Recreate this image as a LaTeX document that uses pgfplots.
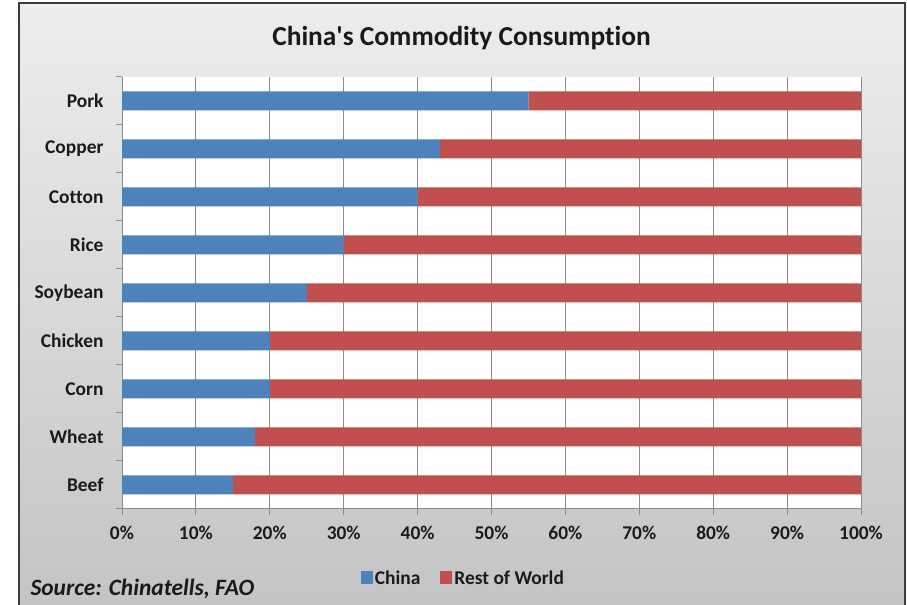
\documentclass[border=0pt]{standalone}
\usepackage{pgfplots}
\pgfplotsset{compat=1.18}
\usepackage{fontspec}
\setmainfont{Carlito}[Ligatures={TeX,NoCommon}]
\definecolor{cblue}{HTML}{4F81BD}
\definecolor{cred}{HTML}{C0504D}
\definecolor{gridc}{HTML}{8C8C8C}
\definecolor{txt}{HTML}{1A1A1A}
\definecolor{bgtop}{HTML}{EDEDED}
\definecolor{bgbot}{HTML}{C4C4C4}
\definecolor{frame}{HTML}{3C3C3C}
\begin{document}
\begin{tikzpicture}[x=1bp,y=1bp]
\useasboundingbox (0,0) rectangle (907,605);
\fill[white] (0,0) rectangle (907,605);
\shade[top color=bgtop, bottom color=bgbot] (19,0) rectangle (905,602);
\draw[line width=2bp, frame] (19,-2) -- (19,602) -- (905,602) -- (905,-2);
\node[anchor=base, text=txt, font=\fontsize{27.5}{30}\selectfont\bfseries] at (461.5,559) {China\textquotesingle s Commodity Consumption};
\node[anchor=base west, text=txt, font=\fontsize{23.5}{26}\selectfont\bfseries\itshape] at (27,9) {Source: Chinatells, FAO};
\begin{axis}[
  at={(122bp,96bp)}, anchor=south west, scale only axis,
  width=739bp, height=432bp,
  xbar stacked, bar width=19bp,
  xmin=0, xmax=100, ymin=-0.5, ymax=8.5,
  axis background/.style={fill=white},
  axis x line*=bottom, axis y line*=left,
  axis line style={-, draw=gridc, line width=1bp},
  xtick={0,10,...,100},
  xticklabels={0\%,10\%,20\%,30\%,40\%,50\%,60\%,70\%,80\%,90\%,100\%},
  xmajorgrids, grid style={draw=gridc, line width=1bp},
  ytick={0,...,8},
  yticklabels={Beef,Wheat,Corn,Chicken,Soybean,Rice,Cotton,Copper,Pork},
  minor ytick={-0.5,0.5,...,8.5},
  tick align=outside, major tick length=6bp, minor tick length=6bp,
  tick style={draw=gridc, line width=1bp},
  major y tick style={draw=none},
  xticklabel style={font=\fontsize{19.5}{22}\selectfont\bfseries, text=txt, yshift=-8bp},
  yticklabel style={font=\fontsize{19.5}{22}\selectfont\bfseries, text=txt, xshift=-9bp},
  legend style={at={(0.462,-0.16)}, anchor=center, legend columns=2, draw=none, fill=none,
    font=\fontsize{19.5}{22}\selectfont\bfseries, text=txt,
    nodes={inner sep=2bp},
    /tikz/every even column/.append style={column sep=18bp}},
  legend image code/.code={\fill[#1] (0bp,-6bp) rectangle (12bp,7bp);},
]
\addplot[fill=cblue, draw=none] coordinates {(15,0) (18,1) (20,2) (20,3) (25,4) (30,5) (40,6) (43,7) (55,8)};
\addplot[fill=cred, draw=none] coordinates {(85,0) (82,1) (80,2) (80,3) (75,4) (70,5) (60,6) (57,7) (45,8)};
\legend{China, Rest of World}
\end{axis}
\end{tikzpicture}
\end{document}
